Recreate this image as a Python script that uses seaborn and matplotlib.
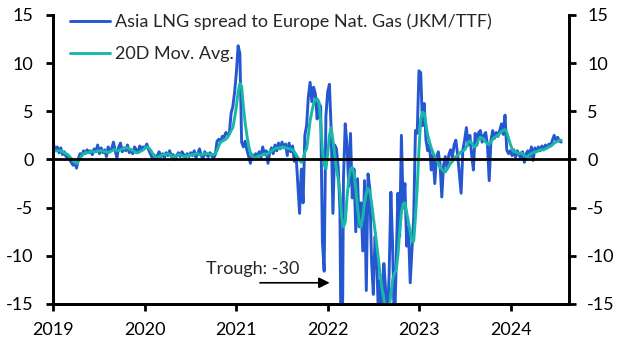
import pandas as pd
import matplotlib
matplotlib.use("Agg")
import matplotlib.pyplot as plt
import seaborn as sns

# weekly readings of the JKM/TTF spread ($/MMBtu), Jan 2019 - Jul 2024
spread_2019 = [1.5, 0.9, 1.3, 0.7, 1.2, 0.5, 0.8, 0.3, 0.4, 0.0, -0.3, -0.6, -0.4,
               -0.9, 0.1, 0.6, 0.4, 0.9, 0.6, 1.0, 0.7, 0.9, 0.5, 1.1, 0.8, 1.5,
               0.6, 1.2, 0.7, 1.0, 0.3, 1.3, 0.8, 1.1, 1.8, 0.9, 0.2, 1.3, 1.7,
               0.8, 1.2, 0.9, 1.5, 0.7, 1.0, 0.6, 1.3, 1.0, 0.8, 1.4, 1.1, 1.3]
spread_2020 = [1.2, 1.6, 1.0, 0.6, 0.2, 0.5, 0.1, 0.4, 0.8, 0.3, 0.6, 0.2, 0.7,
               0.4, 0.9, 0.3, 0.5, 0.0, 0.4, 0.7, 0.3, 0.8, 0.5, 0.2, 0.6, 0.3,
               0.7, 0.4, 0.9, 0.2, 0.6, 1.1, 0.4, 0.1, 0.8, 0.5, 0.3, 0.7, 0.4,
               0.1, 0.5, 1.9, 2.1, 1.8, 2.4, 2.3, 2.8, 2.6, 2.7, 4.8, 5.5, 7.0]
spread_2021 = [9.0, 11.8, 11.0, 1.8, 1.3, 1.9, 1.0, 0.3, -0.4, 0.5, 0.1, 0.6, 0.3,
               0.8, 0.2, 1.3, 0.5, 0.9, -0.4, 0.7, 1.2, 0.6, 1.5, 0.9, 1.7, 1.1,
               1.8, 1.2, 1.6, 0.4, 1.7, 0.8, 1.4, -0.2, 0.5, -2.5, -5.6, -1.0,
               -4.5, 2.5, 3.5, 6.5, 8.0, 6.0, 7.5, 6.8, 4.2, 5.8, 5.5, -8.5,
               -11.6, 4.5]
spread_2022 = [7.0, 7.8, 3.0, -5.6, 1.5, 1.1, -0.8, -5.3, -30.0, -2.0, 3.7, 1.5,
               -2.8, 2.7, -4.0, -1.0, -7.5, -2.0, -7.0, -4.5, -9.5, -2.2, -13.6,
               -1.5, -3.0, -10.5, -14.0, -8.0, -10.5, -17.0, -12.5, -16.0, -10.8,
               -13.5, -17.0, -12.0, -3.4, -9.0, -18.0, -11.0, -3.5, -8.0, 2.5,
               -5.0, -2.5, -9.0, -7.0, -12.8, -9.4, -6.0, 3.0, 2.7]
spread_2023 = [9.2, 9.0, 3.5, 5.8, 2.0, 0.9, 1.5, -1.1, 0.5, -2.5, 0.2, 0.8, -0.5,
               -3.9, -0.6, 0.3, -1.0, 0.5, 1.0, 0.2, 1.5, 2.0, 0.5, -1.5, -3.5,
               1.0, 2.0, 3.3, 1.5, 2.5, 0.5, -1.1, 2.7, 1.5, 2.8, 3.0, 1.8, 2.5,
               2.8, 1.5, -2.2, 2.0, 3.0, 2.2, 2.8, 2.4, 3.0, 3.7, 2.6, 4.6, 1.0,
               0.6]
spread_2024 = [0.9, 0.4, 1.0, 0.2, 0.9, 0.5, 0.1, 0.8, -0.3, 0.6, 0.9, 0.3, 1.3,
               -0.1, 1.2, 0.8, 1.3, 0.9, 1.4, 1.0, 1.5, 1.2, 1.6, 1.4, 2.0, 2.5,
               2.0, 2.3, 1.9, 1.8]

# 20-day moving average, read at the same weekly points
ma_2019 = [0.9, 0.9, 0.9, 0.9, 0.9, 0.8, 0.7, 0.6, 0.5, 0.3, 0.1, -0.1, -0.3,
           -0.4, -0.2, 0.1, 0.4, 0.6, 0.7, 0.7, 0.7, 0.8, 0.8, 0.8, 0.8, 0.9,
           0.9, 0.9, 0.9, 0.8, 0.8, 0.7, 0.8, 0.9, 1.0, 1.0, 0.9, 0.9, 1.0, 1.1,
           1.1, 1.2, 1.2, 1.1, 1.0, 0.9, 0.8, 0.7, 0.7, 0.8, 0.9, 1.0]
ma_2020 = [1.2, 1.3, 1.2, 1.0, 0.7, 0.4, 0.2, 0.2, 0.3, 0.4, 0.5, 0.5, 0.5, 0.6,
           0.5, 0.4, 0.3, 0.3, 0.4, 0.5, 0.5, 0.4, 0.3, 0.3, 0.4, 0.4, 0.5, 0.5,
           0.5, 0.6, 0.6, 0.5, 0.5, 0.5, 0.6, 0.6, 0.6, 0.5, 0.5, 0.5, 0.6, 0.9,
           1.4, 1.8, 1.9, 2.0, 2.1, 2.3, 2.6, 3.0, 3.3, 4.3]
ma_2021 = [5.5, 7.0, 7.9, 7.6, 5.5, 3.8, 2.5, 1.4, 0.7, 0.4, 0.2, 0.2, 0.3, 0.4,
           0.4, 0.5, 0.6, 0.5, 0.6, 0.8, 0.9, 1.0, 1.1, 1.2, 1.2, 1.2, 1.3, 1.3,
           1.2, 1.2, 1.1, 1.1, 1.0, 0.8, 0.5, 0.2, -0.1, -0.3, 0.0, 0.8, 1.1,
           2.5, 4.0, 5.0, 5.8, 6.2, 6.3, 6.0, 4.0, 1.0, -0.5, -1.0]
ma_2022 = [0.5, 2.5, 3.3, 2.0, 0.5, -1.0, -2.0, -3.5, -6.0, -7.0, -6.5, -4.0,
           -2.0, -1.0, -0.8, -1.5, -3.0, -5.0, -6.5, -7.0, -6.0, -4.5, -3.5,
           -3.0, -3.3, -4.5, -6.0, -7.4, -9.0, -10.5, -12.0, -13.5, -14.5,
           -15.5, -16.0, -15.5, -14.0, -12.5, -11.8, -11.5, -10.0, -7.5, -5.5,
           -4.6, -4.5, -5.5, -6.5, -7.5, -8.5, -8.5, -6.0, -3.0]
ma_2023 = [1.0, 4.2, 4.9, 4.8, 3.6, 2.5, 1.8, 1.2, 0.7, 0.3, 0.0, -0.4, -0.8,
           -1.0, -1.2, -1.3, -1.0, -0.7, -0.4, -0.2, 0.1, 0.3, 0.4, 0.6, 0.8,
           0.9, 1.0, 1.3, 1.7, 1.9, 1.7, 1.4, 1.3, 1.6, 2.1, 2.3, 2.2, 2.0, 1.8,
           1.6, 1.6, 1.8, 2.1, 2.3, 2.4, 2.5, 2.7, 2.9, 3.0, 3.1, 2.8, 2.2]
ma_2024 = [1.6, 1.1, 0.8, 0.8, 0.7, 0.6, 0.7, 0.6, 0.4, 0.3, 0.3, 0.5, 0.6, 0.7,
           0.8, 0.8, 0.9, 1.0, 1.0, 1.0, 1.1, 1.2, 1.3, 1.4, 1.5, 1.7, 1.8, 1.9,
           2.0, 2.0]

years = ["2019", "2020", "2021", "2022", "2023", "2024"]
yticks = [-15, -10, -5, 0, 5, 10, 15]
spread_label = "Asia LNG spread to Europe Nat. Gas (JKM/TTF)"
ma_label = "20D Mov. Avg."

BLUE = "#2457d0"
TEAL = "#17b8a6"

spread = spread_2019 + spread_2020 + spread_2021 + spread_2022 + spread_2023 + spread_2024
ma = ma_2019 + ma_2020 + ma_2021 + ma_2022 + ma_2023 + ma_2024
df = pd.DataFrame({
	"date": pd.date_range("2019-01-04", periods=len(spread), freq="7D"),
	"spread": spread,
	"ma": ma,
})

sns.set_style("white")
plt.rcParams["font.family"] = ["Lato", "DejaVu Sans"]
plt.rcParams["axes.unicode_minus"] = False
plt.rcParams["font.size"] = 13

fig, ax = plt.subplots(figsize=(6.28, 3.55), dpi=100)
fig.subplots_adjust(left=0.0844, right=0.906, top=0.958, bottom=0.1437)

sns.lineplot(data=df, x="date", y="spread", color=BLUE, lw=2.1, ax=ax,
			 label=spread_label, zorder=2)
sns.lineplot(data=df, x="date", y="ma", color=TEAL, lw=2.1, ax=ax,
			 label=ma_label, zorder=3)
ax.axhline(0, color="black", lw=2, zorder=4)

ax.set_ylim(-15, 15)
ax.set_xlim(pd.Timestamp("2019-01-01"), pd.Timestamp("2024-08-19"))
ax.set_xticks([pd.Timestamp(y + "-01-01") for y in years])
ax.set_xticklabels(years)
ax.set_yticks(yticks)
ax.set_xlabel("")
ax.set_ylabel("")

ax2 = ax.twinx()
ax2.set_ylim(-15, 15)
ax2.set_yticks(yticks)

for a in (ax, ax2):
	for side in ("left", "right", "bottom"):
		a.spines[side].set_linewidth(2)
		a.spines[side].set_color("black")
	a.spines["top"].set_visible(False)
ax.tick_params(axis="y", left=True, length=5, width=2, pad=9, colors="black")
ax.tick_params(axis="x", bottom=True, length=5, width=2, pad=8, colors="black")
ax2.tick_params(axis="y", right=True, length=5, width=2, pad=8, colors="black")

ax.legend(loc="upper left", bbox_to_anchor=(0.033, 1.005), frameon=False,
		  handlelength=2.2, handletextpad=0.3, labelspacing=0.9,
		  borderpad=0, borderaxespad=0)

ax.annotate("", xy=(pd.Timestamp("2022-01-19"), -12.8),
			xytext=(pd.Timestamp("2021-03-25"), -12.8),
			arrowprops=dict(arrowstyle="-|>", color="black", lw=1.2, mutation_scale=16))
ax.text(pd.Timestamp("2021-03-08"), -11.4, "Trough: -30", ha="center", va="center")

fig.savefig("out.png", dpi=100)
